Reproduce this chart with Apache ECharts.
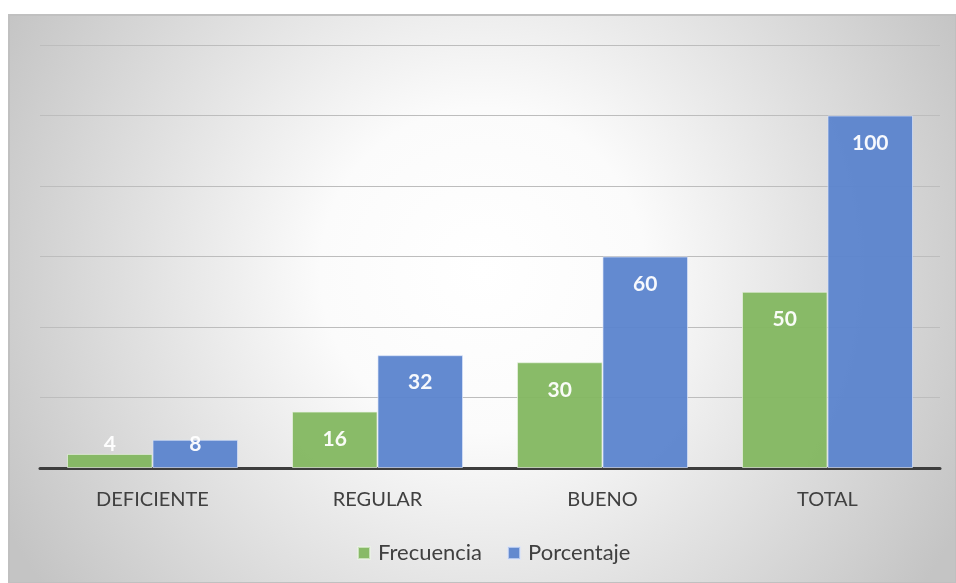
<!DOCTYPE html>
<html>
<head>
<meta charset="utf-8">
<script src="https://cdn.jsdelivr.net/npm/echarts@6/dist/echarts.min.js"></script>
<style>
  html, body { margin: 0; padding: 0; background: #ffffff; }
  #chart { width: 956px; height: 583px; }
</style>
</head>
<body>
<div id="chart"></div>
<script>
// Categories and values
const categories = ['DEFICIENTE', 'REGULAR', 'BUENO', 'TOTAL'];
const frecuencia = [4, 16, 30, 50];
const porcentaje = [8, 32, 60, 100];
const seriesNames = ['Frecuencia', 'Porcentaje'];

const FONT = 'Lato';
const GREEN = '#83b760';
const BLUE = '#5b84cd';

// Short bars keep their label resting just above the axis
function withLabels(values) {
  return values.map(v => v < 10
    ? { value: v, label: { position: 'insideBottom', distance: 13 } }
    : v);
}

const chart = echarts.init(document.getElementById('chart'), null, { renderer: 'canvas' });

const labelStyle = {
  show: true,
  position: 'insideTop',
  distance: 17,
  color: '#ffffff',
  fontFamily: FONT,
  fontWeight: 'bold',
  fontSize: 21
};

chart.setOption({
  animation: false,
  backgroundColor: '#ffffff',
  graphic: [{
    type: 'rect',
    z: -10,
    silent: true,
    shape: { x: 9, y: 15, width: 947, height: 568 },
    style: {
      fill: new echarts.graphic.RadialGradient(0.5, 0.45, 0.95, [
        { offset: 0, color: '#ffffff' },
        { offset: 0.3, color: '#fbfbfb' },
        { offset: 1, color: '#c4c4c4' }
      ]),
      stroke: '#c0c0c0',
      lineWidth: 2
    }
  }],
  grid: { left: 40, right: 16, top: 45, bottom: 115, containLabel: false },
  legend: {
    data: seriesNames,
    bottom: 14,
    left: 352,
    itemWidth: 12,
    itemHeight: 12,
    itemGap: 25,
    icon: 'rect',
    textStyle: { fontFamily: FONT, fontSize: 22, color: '#404040', padding: [0, 0, 0, 3] }
  },
  xAxis: {
    type: 'category',
    data: categories,
    axisLine: { show: true, lineStyle: { color: '#3d3d3d', width: 3 } },
    axisTick: { show: false },
    axisLabel: { margin: 22, fontFamily: FONT, fontSize: 20, color: '#404040' }
  },
  yAxis: {
    type: 'value',
    min: 0,
    max: 120,
    interval: 20,
    axisLine: { show: false },
    axisTick: { show: false },
    axisLabel: { show: false },
    splitLine: { lineStyle: { color: '#bdbdbd', width: 1 } }
  },
  series: [
    {
      name: seriesNames[0],
      type: 'bar',
      data: withLabels(frecuencia),
      barGap: '0%',
      barCategoryGap: '24%',
      itemStyle: { color: GREEN, opacity: 0.95, borderColor: 'rgba(235,245,230,0.7)', borderWidth: 1 },
      label: labelStyle
    },
    {
      name: seriesNames[1],
      type: 'bar',
      data: withLabels(porcentaje),
      barGap: '0%',
      barCategoryGap: '24%',
      itemStyle: { color: BLUE, opacity: 0.95, borderColor: 'rgba(220,230,250,0.7)', borderWidth: 1 },
      label: labelStyle
    }
  ]
});
</script>
</body>
</html>
